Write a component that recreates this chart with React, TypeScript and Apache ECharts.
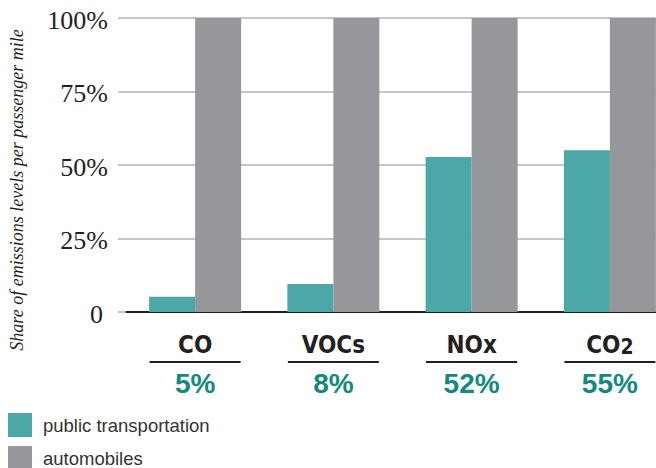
import React, { useEffect, useRef } from "react";
import * as echarts from "echarts";

const categories = ["CO", "VOCs", "NOx", "CO2"];
const publicTransport = [5.2, 9.5, 52.7, 55];
const automobiles = [100, 100, 100, 100];
const shareLabels = ["5%", "8%", "52%", "55%"];
const yTickLabels = ["0", "25%", "50%", "75%", "100%"];
const seriesNames = ["public transportation", "automobiles"];
const yTitle = "Share of emissions levels per passenger mile";

const TEAL = "#4ba8a7";
const GRAY = "#96979b";
const DARK_TEAL = "#138a7d";
const INK = "#231f20";

export default function App() {
  const ref = useRef<HTMLDivElement>(null);

  useEffect(() => {
    if (!ref.current) return;
    const chart = echarts.init(ref.current, undefined, { renderer: "svg" });
    const condensed = "'Liberation Sans Narrow', 'DejaVu Sans Condensed', 'Liberation Sans', sans-serif";
    const legendText = {
      fontFamily: "'Liberation Sans', Arial, sans-serif",
      fontSize: 18.5,
      color: "#333333",
      padding: [0, 0, 0, 6],
    };
    chart.setOption({
      animation: false,
      backgroundColor: "#ffffff",
      grid: {
        left: 126,
        top: 18,
        right: -23,
        bottom: 156,
        containLabel: false,
        outerBoundsMode: "none",
      },
      legend: [
        {
          orient: "vertical",
          left: 8,
          top: 413,
          padding: 0,
          itemWidth: 24,
          itemHeight: 24,
          icon: "rect",
          data: [seriesNames[0]],
          textStyle: legendText,
        },
        {
          orient: "vertical",
          left: 8,
          top: 446,
          padding: 0,
          itemWidth: 24,
          itemHeight: 24,
          icon: "rect",
          data: [seriesNames[1]],
          textStyle: legendText,
        },
      ],
      xAxis: {
        type: "category",
        data: categories,
        axisLine: { show: true, lineStyle: { color: INK, width: 2 } },
        axisTick: { show: false },
        axisLabel: {
          interval: 0,
          margin: 15,
          formatter: (value: string, idx: number) => {
            const name = value === "CO2" ? "{n|CO}{s|2}" : `{n|${value}}`;
            return `${name}\n{hr|}\n{p|${shareLabels[idx]}}`;
          },
          rich: {
            n: {
              fontFamily: condensed,
              fontWeight: "bold",
              fontSize: 24,
              color: INK,
              lineHeight: 30,
              align: "center",
              verticalAlign: "bottom",
            },
            s: {
              fontFamily: condensed,
              fontWeight: "bold",
              fontSize: 21,
              color: INK,
              lineHeight: 27,
              align: "center",
              verticalAlign: "bottom",
            },
            hr: {
              width: 91,
              height: 2,
              backgroundColor: INK,
              lineHeight: 10,
              align: "center",
              verticalAlign: "middle",
            },
            p: {
              fontFamily: "'Liberation Sans', Arial, sans-serif",
              fontWeight: "bold",
              fontSize: 28,
              color: DARK_TEAL,
              lineHeight: 33,
              align: "center",
            },
          },
        },
      },
      yAxis: {
        type: "value",
        min: 0,
        max: 100,
        interval: 25,
        axisLine: { show: false },
        axisTick: { show: true, length: 8, lineStyle: { color: "#b3b3b3", width: 1.5 } },
        splitLine: { show: true, lineStyle: { color: "#b3b3b3", width: 1.5 } },
        axisLabel: {
          margin: 18,
          fontFamily: "'Liberation Serif', 'Times New Roman', serif",
          fontSize: 26,
          color: INK,
          padding: [4, 0, 0, 0],
          formatter: (v: number) => {
            const t = yTickLabels[Math.round(v / 25)];
            return v === 0 ? `{z|${t}}` : t;
          },
          rich: {
            z: {
              fontFamily: "'Liberation Serif', 'Times New Roman', serif",
              fontSize: 26,
              color: INK,
              padding: [0, 5, 0, 0],
            },
          },
        },
      },
      graphic: [
        {
          type: "text",
          x: 17,
          y: 190,
          rotation: Math.PI / 2,
          style: {
            text: yTitle,
            fill: INK,
            font: "italic 18px 'Liberation Serif', 'Times New Roman', serif",
            align: "center",
            verticalAlign: "middle",
            textAlign: "center",
            textVerticalAlign: "middle",
          },
        },
      ],
      series: [
        {
          name: seriesNames[0],
          type: "bar",
          data: publicTransport,
          barWidth: 46,
          barGap: "0%",
          itemStyle: { color: TEAL },
        },
        {
          name: seriesNames[1],
          type: "bar",
          data: automobiles,
          barWidth: 46,
          barGap: "0%",
          itemStyle: { color: GRAY },
        },
      ],
    });
    return () => chart.dispose();
  }, []);

  return (
    <div
      ref={ref}
      style={{ position: "fixed", left: 0, top: 0, width: 656, height: 468 }}
    />
  );
}
